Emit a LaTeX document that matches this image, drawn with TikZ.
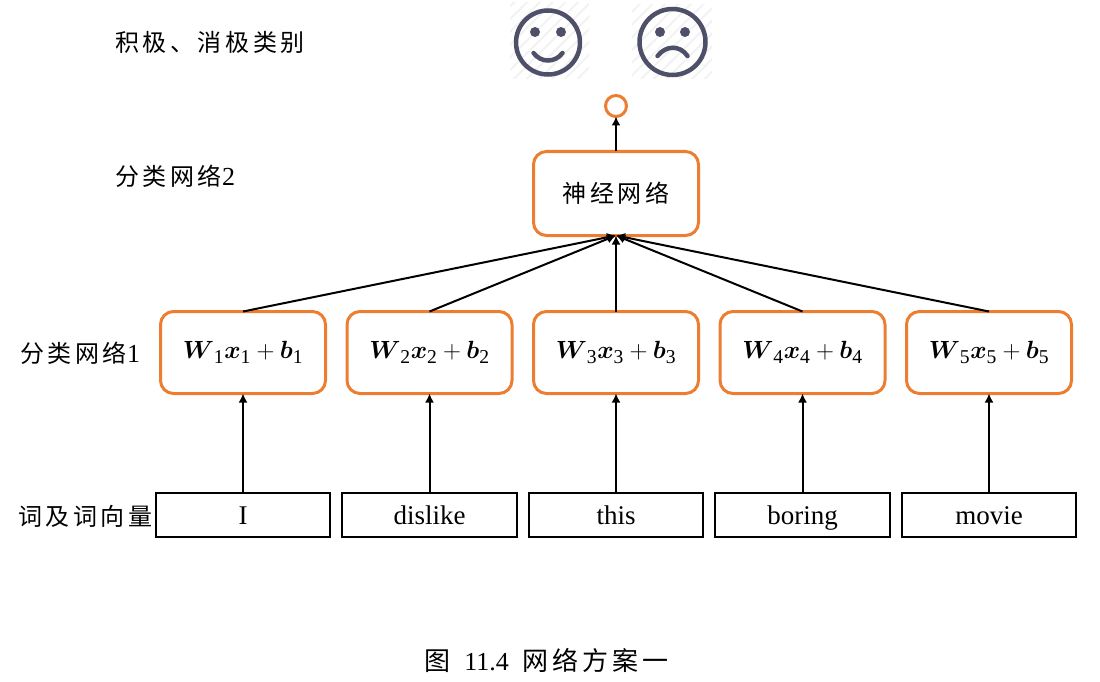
\documentclass[tikz,border=0pt]{standalone}
\usepackage{amsmath,amssymb}
\usepackage{fontspec}
\setmainfont{Liberation Serif}
\newfontfamily\cjk[LetterSpace=15]{Noto Sans CJK SC}
\usetikzlibrary{arrows.meta}
\usetikzlibrary{positioning}
\usetikzlibrary{patterns.meta}
\definecolor{NOrange}{RGB}{237,125,49}
\definecolor{FaceGray}{RGB}{77,80,104}
\newcommand{\wxb}[1]{\fontsize{28}{32}\selectfont $\boldsymbol{W}_{\text{#1}}\boldsymbol{x}_{\text{#1}}+\boldsymbol{b}_{\text{#1}}$\hspace{8pt}}
\tikzset{
	orbox/.style={draw=NOrange, line width=3pt, rounded corners=13pt, outer sep=0pt, minimum width=165pt, minimum height=82pt, inner sep=0pt},
	wordbox/.style={draw=black, line width=1.8pt, outer sep=0pt, minimum width=174.5pt, minimum height=44pt, inner sep=0pt, text height=24pt, text depth=5pt, font=\fontsize{27}{30}\selectfont},
	lab/.style={anchor=west, inner sep=0pt, font=\fontsize{24}{28}\selectfont},
	arr/.style={-{Latex[length=9pt,width=9pt]}, line width=2pt, draw=black},
	hatchbg/.style={pattern={Lines[angle=45,distance=9pt,line width=2pt]}, pattern color=black!5},
	face/.style={draw=FaceGray, line width=4.5pt, line cap=round}
}
\begin{document}
\begin{tikzpicture}[x=1pt, y=-1pt, node distance=20pt]
		\useasboundingbox (0,0) rectangle (1100,682);
		% words and the row above them
		\node[wordbox] (w1) at (243,515) {I};
		\node[wordbox, right=12pt of w1] (w2) {dislike};
		\node[wordbox, right=12pt of w2] (w3) {this};
		\node[wordbox, right=12pt of w3] (w4) {boring};
		\node[wordbox, right=12pt of w4] (w5) {movie};
		\node[orbox] (f1) at (243,352.5) {\wxb{1}};
		\node[orbox, right=21.5pt of f1] (f2) {\wxb{2}};
		\node[orbox, right=21.5pt of f2] (f3) {\wxb{3}};
		\node[orbox, right=21.5pt of f3] (f4) {\wxb{4}};
		\node[orbox, right=21.5pt of f4] (f5) {\wxb{5}};
		\node[orbox, minimum height=84pt, above=76pt of f3] (nn) {\fontsize{24}{28}\selectfont\cjk 神经网络};
		\node[circle, draw=NOrange, line width=3pt, outer sep=0pt, minimum size=21pt, inner sep=0pt, above=35pt of nn] (out) {};
		% left labels
		\node[lab] (l1) at (115,42) {\cjk 积极、消极类别};
		\node[lab] (l2) at (115,176) {{\cjk 分类网络}\fontsize{26}{28}\selectfont 2};
		\node[lab] (l3) at (20,353) {{\cjk 分类网络}\fontsize{26}{28}\selectfont 1};
		\node[lab] (l4) at (18,516) {\cjk 词及词向量};
		\node[inner sep=0pt, font=\fontsize{26}{30}\selectfont] (cap) at (546.5,660) {{\cjk 图}\hspace{14pt}11.4\hspace{14pt}{\cjk 网络方案一}};
		% faces
		\node[rectangle, hatchbg, minimum width=79pt, minimum height=76pt, inner sep=0pt] (happy) at (549.5,41) {};
		\node[rectangle, hatchbg, minimum width=80pt, minimum height=74pt, inner sep=0pt] (sad) at (672,42) {};
		\draw[face] (548,42.5) circle (32);
		\fill[FaceGray] (535,32) circle (5) (561,32) circle (5);
		\draw[face] (533.5,53) .. controls (541,63) and (555,63) .. (562.5,53);
		\draw[face] (672.5,42) circle (33);
		\fill[FaceGray] (660,32) circle (5) (685,32) circle (5);
		\draw[face] (657.5,56) .. controls (666,45) and (680,45) .. (687.5,56);
		% connectors
		\draw[arr] (w1.north) -- (f1.south);
		\draw[arr] (w2.north) -- (f2.south);
		\draw[arr] (w3.north) -- (f3.south);
		\draw[arr] (w4.north) -- (f4.south);
		\draw[arr] (w5.north) -- (f5.south);
		\draw[arr] (f1.north) -- (nn.south);
		\draw[arr] (f2.north) -- (nn.south);
		\draw[arr] (f3.north) -- (nn.south);
		\draw[arr] (f4.north) -- (nn.south);
		\draw[arr] (f5.north) -- (nn.south);
		\draw[arr] (nn.north) -- (out.south);
	\end{tikzpicture}
\end{document}
